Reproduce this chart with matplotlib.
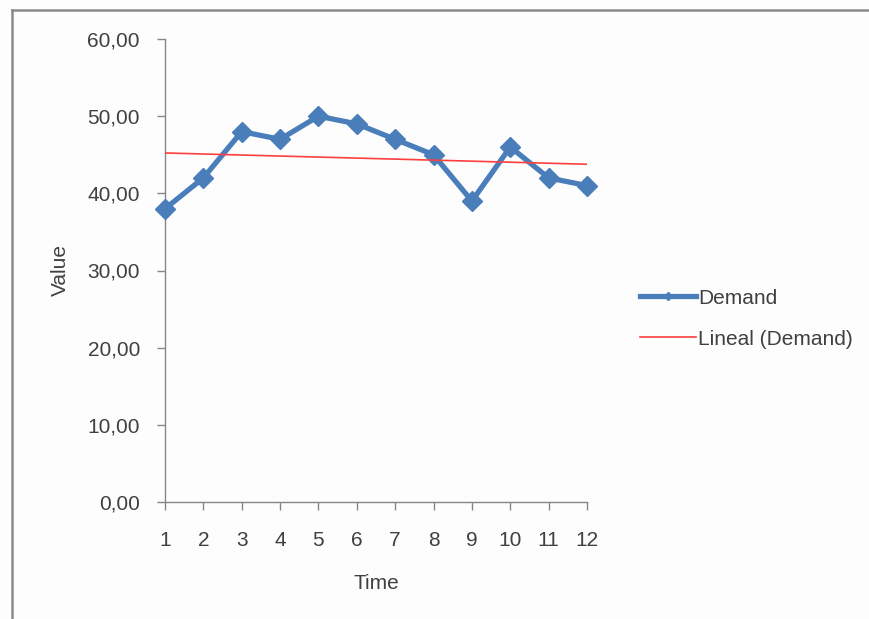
import numpy as np
import matplotlib
matplotlib.use("Agg")
import matplotlib.pyplot as plt
from matplotlib.lines import Line2D
from matplotlib.ticker import FuncFormatter

plt.rcParams['font.family'] = ['Liberation Sans', 'DejaVu Sans']

# Monthly demand series
periods = [1, 2, 3, 4, 5, 6, 7, 8, 9, 10, 11, 12]
demand = [38, 42, 48, 47, 50, 49, 47, 45, 39, 46, 42, 41]
y_ticks = [0, 10, 20, 30, 40, 50, 60]

# Least-squares linear trend of demand
slope, intercept = np.polyfit(periods, demand, 1)
trend = [slope * p + intercept for p in periods]

blue = '#4a7ebb'
red = '#ff3f3f'
axis_gray = '#868686'
text_col = '#404040'

fig = plt.figure(figsize=(8.69, 6.19), dpi=100)
fig.patch.set_facecolor('#fdfdfd')

# Chart frame lines (top and left edges)
fig.add_artist(Line2D([11.5 / 869, 11.5 / 869], [0, 1 - 10 / 619],
                      transform=fig.transFigure, color='#8a8a8a', lw=1.8))
fig.add_artist(Line2D([11.5 / 869, 1], [1 - 10 / 619, 1 - 10 / 619],
                      transform=fig.transFigure, color='#8a8a8a', lw=1.8))

ax = fig.add_axes([165 / 869, 1 - 502 / 619, (587 - 165) / 869, (502 - 39) / 619])
ax.set_facecolor('none')

ax.plot(periods, demand, color=blue, lw=3.8, marker='D', markersize=10.5,
        markerfacecolor=blue, markeredgecolor=blue, clip_on=False, zorder=3,
        label='Demand')
ax.plot(periods, trend, color=red, lw=1.2, zorder=4, label='Lineal (Demand)')

ax.set_xlim(1, 12)
ax.set_ylim(0, 60)
ax.set_xticks(periods)
ax.set_yticks(y_ticks)
ax.yaxis.set_major_formatter(FuncFormatter(lambda v, _: f"{v:.2f}".replace('.', ',')))

for side in ('top', 'right'):
    ax.spines[side].set_visible(False)
for side in ('left', 'bottom'):
    ax.spines[side].set_color(axis_gray)
    ax.spines[side].set_linewidth(1.0)

ax.tick_params(axis='both', colors=axis_gray, labelcolor=text_col,
               labelsize=15, length=6, width=1.0, direction='out')
ax.tick_params(axis='x', pad=15)
ax.tick_params(axis='y', pad=12)

ax.set_xlabel('Time', fontsize=15, color=text_col, labelpad=17)
ax.set_ylabel('Value', fontsize=15, color=text_col, labelpad=13)

leg = ax.legend(loc='center left', bbox_to_anchor=(1.08, 0.396), frameon=False,
                fontsize=15, handlelength=2.7, handletextpad=0.1,
                labelspacing=1.05, labelcolor=text_col)
leg.legend_handles[0].set_markersize(4)

fig.savefig('out.png', dpi=100, facecolor=fig.get_facecolor())
